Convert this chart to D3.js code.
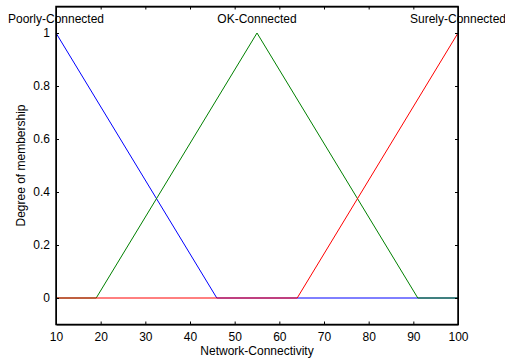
<!DOCTYPE html>
<html>
<head>
<meta charset="utf-8">
<script src="https://cdn.jsdelivr.net/npm/d3@7"></script>
<style>
  body { margin: 0; background: #fff; }
  text { font-family: "Liberation Sans", Arial, sans-serif; font-size: 12px; fill: #000; }
</style>
</head>
<body>
<div id="chart"></div>
<script>
// membership function breakpoints [x, degree]
var poorly = [[10, 1], [46, 0], [100, 0]];
var ok = [[10, 0], [19, 0], [55, 1], [91, 0], [100, 0]];
var surely = [[10, 0], [64, 0], [100, 1]];

var mfNames = ["Poorly-Connected", "OK-Connected", "Surely-Connected"];
var mfPeaks = [10, 55, 100];
var mfColors = ["#0000ff", "#008000", "#ff0000"];

var xTicks = [10, 20, 30, 40, 50, 60, 70, 80, 90, 100];
var yTicks = [0, 0.2, 0.4, 0.6, 0.8, 1];

var W = 505, H = 361;
var margin = {top: 6.5, right: 47, bottom: 36.5, left: 56};
var width = W - margin.left - margin.right,
    height = H - margin.top - margin.bottom;

var svg = d3.select("#chart").append("svg")
  .attr("width", W).attr("height", H)
  .append("g")
  .attr("transform", "translate(" + margin.left + "," + margin.top + ")");

var x = d3.scaleLinear().domain([10, 100]).range([0, width]);
var y = d3.scaleLinear().domain([-0.1, 1.1]).range([height, 0]);

var line = d3.line().x(function(d) { return x(d[0]); }).y(function(d) { return y(d[1]); });

// draw the curves, order: blue, green, red
[poorly, ok, surely].forEach(function(s, i) {
  svg.append("path")
    .datum(s)
    .attr("d", line)
    .attr("fill", "none")
    .attr("stroke", mfColors[i])
    .attr("stroke-width", 1);
});

// labels above each peak
mfNames.forEach(function(n, i) {
  svg.append("text")
    .attr("x", x(mfPeaks[i]))
    .attr("y", y(1) - 10)
    .attr("text-anchor", "middle")
    .text(n);
});

// axes, ticks pointing in
var tl = 3;
svg.append("g").attr("transform", "translate(0," + height + ")")
  .call(d3.axisBottom(x).tickValues(xTicks).tickSizeInner(-tl).tickSizeOuter(0).tickPadding(8)
    .tickFormat(d3.format("d")));
svg.append("g")
  .call(d3.axisTop(x).tickValues(xTicks).tickSizeInner(-tl).tickSizeOuter(0).tickFormat(""));
svg.append("g")
  .call(d3.axisLeft(y).tickValues(yTicks).tickSizeInner(-tl).tickSizeOuter(0).tickPadding(6)
    .tickFormat(function(d) { return d3.format("")(+d.toFixed(1)); }));
svg.append("g").attr("transform", "translate(" + width + ",0)")
  .call(d3.axisRight(y).tickValues(yTicks).tickSizeInner(-tl).tickSizeOuter(0).tickFormat(""));

svg.selectAll(".domain").attr("stroke", "#000");
svg.selectAll(".tick line").attr("stroke", "#000");
svg.selectAll(".tick text").style("font-size", "12px").attr("fill", "#000");

svg.append("rect")
  .attr("width", width).attr("height", height)
  .attr("fill", "none").attr("stroke", "#000").attr("stroke-width", 1.5);

svg.append("text")
  .attr("x", width / 2).attr("y", height + 30)
  .attr("text-anchor", "middle")
  .text("Network-Connectivity");

svg.append("text")
  .attr("transform", "translate(-31," + (height / 2) + ") rotate(-90)")
  .attr("text-anchor", "middle")
  .text("Degree of membership");
</script>
</body>
</html>
